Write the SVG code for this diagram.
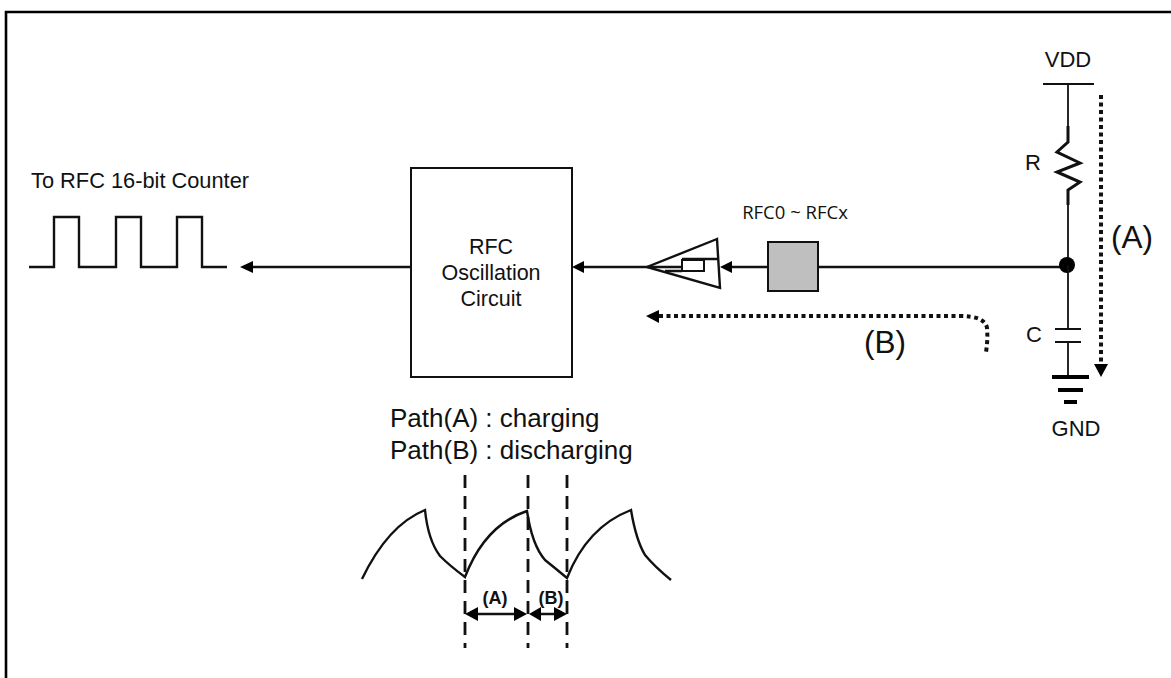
<svg xmlns="http://www.w3.org/2000/svg" width="1171" height="678" viewBox="0 0 1171 678">
<style>
text{font-family:"Liberation Sans",Arial,sans-serif;fill:#111}
.l{fill:none;stroke:#111;stroke-width:2.4}
.t{fill:none;stroke:#111;stroke-width:1.8}
.r{fill:none;stroke:#111;stroke-width:3}
.d{fill:none;stroke:#111;stroke-width:4;stroke-dasharray:4 3.5}
.g{fill:none;stroke:#111;stroke-width:2.8;stroke-dasharray:13 8}
.h{fill:#000;stroke:none}
</style>
<rect width="1171" height="678" fill="#fff"/>
<path id="frame" d="M6 678V12H1171" fill="none" stroke="#000" stroke-width="2.6"/>
<g id="connectors">
<path class="l" d="M253 267H411"/><path class="h" d="M240 267L253 261V273Z"/>
<path class="l" d="M584 267H647"/><path class="h" d="M572 267L584 261V273Z"/>
<path class="l" d="M732 267H768"/><path class="h" d="M720 267L732 261V273Z"/>
<path class="l" d="M818 267H1067"/>
<path class="d" d="M659 316H960Q985 316 987 328Q988 340 986 352"/><path class="h" d="M646 316L659 310V323Z"/>
<path class="d" d="M1101 95V364"/><path class="h" d="M1101 377L1094 364H1108Z"/>
</g>
<g id="vdd"><path class="t" d="M1043 84H1094M1068 84V126"/><text x="1068" y="67" font-size="22" text-anchor="middle">VDD</text></g>
<g id="resistor">
<path class="r" d="M1068 126V142L1057 152L1080 163L1057 172L1080 182L1068 190V205"/>
<path class="t" d="M1068 205V265"/>
<text x="1025" y="170" font-size="22">R</text>
</g>
<circle id="junction" cx="1067" cy="265" r="8" fill="#000"/>
<g id="capacitor"><path class="t" d="M1068 265V329M1055 329H1081M1055 342H1081M1068 342V377"/><text x="1026" y="342" font-size="22">C</text></g>
<g id="gnd"><path d="M1052 377H1089" stroke="#000" stroke-width="4"/><path d="M1058 390H1083" stroke="#000" stroke-width="4"/><path d="M1064 402H1077" stroke="#000" stroke-width="4"/><text x="1076" y="436" font-size="22" text-anchor="middle">GND</text></g>
<g id="pin"><rect x="768" y="242" width="50" height="49" fill="#bfbfbf" stroke="#111" stroke-width="2"/><text x="795" y="219" font-size="18.500" text-anchor="middle" style="font-family:'Open Sans','Noto Sans',sans-serif">RFC0 ~ RFCx</text></g>
<g id="buffer"><path class="l" d="M717 239L647 267L720 288Z"/><path class="l" d="M647 267H682"/><rect x="682" y="260" width="22" height="11" fill="none" stroke="#111" stroke-width="2"/><path class="l" d="M682 259H719M665 271H682"/></g>
<g id="osc"><rect x="411" y="168" width="161" height="209" fill="#fff" stroke="#111" stroke-width="2"/>
<text x="491" y="254" font-size="21.500" text-anchor="middle">RFC</text><text x="491" y="280" font-size="21.500" text-anchor="middle">Oscillation</text><text x="491" y="306" font-size="21.500" text-anchor="middle">Circuit</text></g>
<g id="pulse"><path class="l" d="M29 267H54V217H79V267H116V217H141V267H177V217H202V267H227"/><text x="31" y="188" font-size="21.800">To RFC 16-bit Counter</text></g>
<text id="b" x="864" y="353" font-size="31.500">(B)</text>
<text id="a" x="1111" y="248" font-size="31.500">(A)</text>
<g id="legend"><text x="390" y="427" font-size="26">Path(A) : charging</text><text x="390" y="459" font-size="26">Path(B) : discharging</text></g>
<g id="waveform">
<path class="l" d="M362 579Q388 525 425 510Q428 540 440 556Q450 566 465 577Q485 525 527 511Q532 545 545 560Q555 568 567 578Q587 527 631 510Q636 540 645 555Q655 567 671 580"/>
<path class="g" d="M465 475V648M528 475V648M567 475V648"/>
<path class="l" d="M470 614H523M533 614H562"/>
<path class="h" d="M465 614L478 607V621ZM527 614L514 607V621ZM529 614L541 607V621ZM567 614L554 607V621Z"/>
<text x="495" y="604" font-size="18" font-weight="bold" text-anchor="middle">(A)</text>
<text x="551" y="604" font-size="18" font-weight="bold" text-anchor="middle">(B)</text>
</g>
</svg>
